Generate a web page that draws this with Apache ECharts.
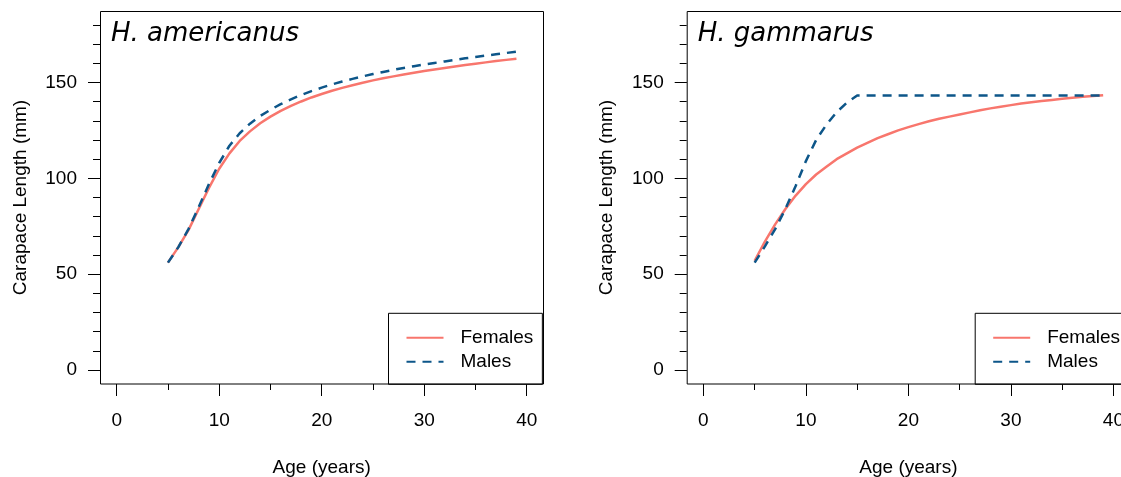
<!DOCTYPE html>
<html>
<head>
<meta charset="utf-8">
<script src="https://cdn.jsdelivr.net/npm/echarts@6/dist/echarts.min.js"></script>
<style>
html,body{margin:0;padding:0;background:#fff;}
#chart{width:1121px;height:477px;}
</style>
</head>
<body>
<div id="chart"></div>
<script>
// ---- data ----
const panelTitles = ['H. americanus', 'H. gammarus'];
const seriesNames = ['Females', 'Males'];
const ages = [5,6,7,8,9,10,11,12,13,14,15,16,17,18,19,20,21,22,23,24,25,26,27,28,29,30,31,32,33,34,35,36,37,38,39];
const americanusFemales = [56,64,73,84,95,105,113,119.5,124.5,128.7,132.2,135.2,137.8,140.1,142.2,144,145.7,147.2,148.6,149.9,151.1,152.2,153.2,154.2,155.1,156,156.8,157.6,158.4,159.1,159.8,160.5,161.2,161.8,162.4];
const americanusMales = [56,64,73.5,85,97,108,117,123.5,128.5,132.5,135.8,138.7,141.2,143.5,145.5,147.3,149,150.5,151.9,153.2,154.4,155.5,156.6,157.6,158.5,159.4,160.2,161,161.8,162.6,163.3,164,164.7,165.4,166.1];
const gammarusFemales = [57,67,76,84,91,97,102,106,110,113,116,118.5,121,123,125,126.7,128.3,129.8,131.1,132.2,133.3,134.4,135.5,136.5,137.4,138.2,139,139.7,140.3,140.9,141.5,142,142.5,142.9,143.3];
const gammarusMales = [56,64.5,73.5,84,96,109,120,128,134.5,139.5,143.2,143.2,143.2,143.2,143.2,143.2,143.2,143.2,143.2,143.2,143.2,143.2,143.2,143.2,143.2,143.2,143.2,143.2,143.2,143.2,143.2,143.2,143.2,143.2,143.2];
const xTickValues = [0, 10, 20, 30, 40];
const yTickLabelValues = [0, 50, 100, 150];

const panelData = [
  [americanusFemales, americanusMales],
  [gammarusFemales, gammarusMales]
];

// ---- styles ----
const FONT = 'Liberation Sans, Arial, sans-serif';
const femaleColor = '#F8766D';
const maleColor = '#0D5689';
const dx = 586.7;
const pxPerY = 1.9167;
const zeroY = 370;
const zeroX = 116.7;
const plotW = 410;
const boxL = 100.5, boxT = 11.5, boxB = 384, boxW = 443;

const grids = [], xAxes = [], yAxes = [], series = [], titles = [], legends = [], graphics = [];
const hiddenX = (g) => ({ type: 'value', gridIndex: g, min: 0, max: 40, show: false });
const hiddenY = (g) => ({ type: 'value', gridIndex: g, min: 0, max: 180, show: false });
const tickStyle = { color: '#000', width: 1 };
const gridBase = { containLabel: false, outerBoundsMode: 'none' };

for (let p = 0; p < 2; p++) {
  const off = p * dx;
  const g = p * 4;
  // g+0: data grid (0..40 x 0..180)
  grids.push(Object.assign({ left: zeroX + off, width: plotW, top: zeroY - 180 * pxPerY, height: 180 * pxPerY }, gridBase));
  xAxes.push(hiddenX(g));
  yAxes.push(hiddenY(g));

  // g+1: x axis grid, axis line at box bottom
  grids.push(Object.assign({ left: zeroX + off, width: plotW, top: 25, height: boxB - 25 }, gridBase));
  xAxes.push({
    type: 'value', gridIndex: g + 1, min: 0, max: 40, interval: 10,
    axisLine: { show: false },
    axisTick: { show: true, inside: false, length: 12, lineStyle: tickStyle },
    minorTick: { show: true, splitNumber: 2, length: 6, lineStyle: tickStyle },
    splitLine: { show: false },
    axisLabel: { fontSize: 19, color: '#000', fontFamily: FONT, margin: 27,
      formatter: v => xTickValues.indexOf(v) >= 0 ? String(v) : '' },
    name: 'Age (years)', nameLocation: 'middle', nameGap: 74,
    nameTextStyle: { fontSize: 19, color: '#000', fontFamily: FONT }
  });
  yAxes.push(hiddenY(g + 1));

  // g+2: minor y ticks with labels, axis at box left
  grids.push(Object.assign({ left: boxL - 0.5 + off, width: 400, top: zeroY - 180 * pxPerY, height: 180 * pxPerY }, gridBase));
  xAxes.push(hiddenX(g + 2));
  yAxes.push({
    type: 'value', gridIndex: g + 2, min: 0, max: 180, interval: 10,
    axisLine: { show: false },
    axisTick: { show: true, inside: false, length: 7, lineStyle: tickStyle },
    splitLine: { show: false },
    axisLabel: { fontSize: 19, color: '#000', fontFamily: FONT, margin: 23,
      formatter: v => yTickLabelValues.indexOf(v) >= 0 ? String(v) : '' },
    name: 'Carapace Length (mm)', nameLocation: 'middle', nameGap: 70,
    nameTextStyle: { fontSize: 19, color: '#000', fontFamily: FONT }
  });

  // g+3: major y ticks
  grids.push(Object.assign({ left: boxL - 0.5 + off, width: 400, top: zeroY - 150 * pxPerY, height: 150 * pxPerY }, gridBase));
  xAxes.push(hiddenX(g + 3));
  yAxes.push({
    type: 'value', gridIndex: g + 3, min: 0, max: 150, interval: 50,
    axisLine: { show: false },
    axisTick: { show: true, inside: false, length: 12, lineStyle: tickStyle },
    splitLine: { show: false },
    axisLabel: { show: false }
  });

  const [fem, mal] = panelData[p];
  series.push({
    name: seriesNames[0], type: 'line', xAxisIndex: g, yAxisIndex: g,
    data: ages.map((a, i) => [a, fem[i]]), symbol: 'none', smooth: false,
    lineStyle: { color: femaleColor, width: 2.5 }, itemStyle: { color: femaleColor }, z: 3
  });
  series.push({
    name: seriesNames[1], type: 'line', xAxisIndex: g, yAxisIndex: g,
    data: ages.map((a, i) => [a, mal[i]]), symbol: 'none', smooth: false,
    lineStyle: { color: maleColor, width: 2.5, type: [9, 7] }, itemStyle: { color: maleColor }, z: 4
  });

  titles.push({
    text: panelTitles[p], left: 111 + off, top: 21, padding: 0,
    textStyle: { fontFamily: 'DejaVu Sans', fontStyle: 'italic', fontWeight: 'normal', fontSize: 26, color: '#000' }
  });

  legends.push({
    data: seriesNames, orient: 'vertical', left: boxL - 1 + boxW - 154 + off, top: 313.3,
    itemWidth: 37, itemHeight: 14, itemGap: 5,
    padding: [15, 9, 13, 17],
    borderColor: '#000', borderWidth: 1, backgroundColor: '#fff',
    selectedMode: false,
    itemStyle: { opacity: 0 },
    textStyle: { fontSize: 19, color: '#000', fontFamily: FONT, padding: [0, 0, 0, 12] }
  });

  graphics.push({
    type: 'rect', shape: { x: boxL + off, y: boxT, width: boxW, height: boxB - boxT },
    style: { fill: 'none', stroke: '#000', lineWidth: 1 }, z: 10, silent: true
  });
}

const chart = echarts.init(document.getElementById('chart'), null, { renderer: 'canvas' });
chart.setOption({
  animation: false,
  backgroundColor: '#fff',
  title: titles,
  legend: legends,
  grid: grids,
  xAxis: xAxes,
  yAxis: yAxes,
  series: series,
  graphic: graphics
});
</script>
</body>
</html>
